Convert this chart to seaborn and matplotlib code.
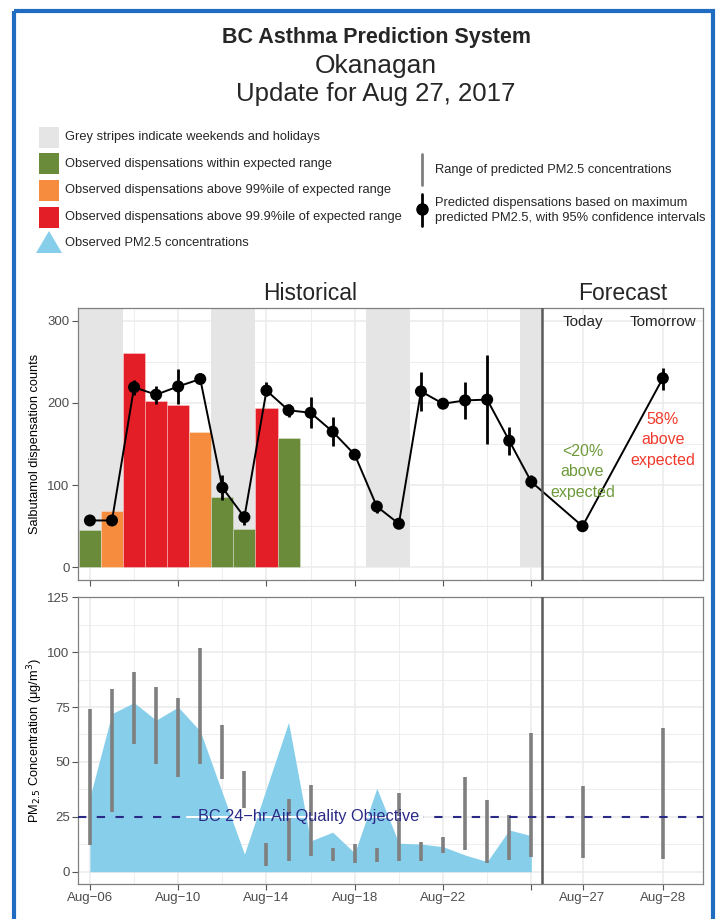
import numpy as np
import pandas as pd
import seaborn as sns
import matplotlib.pyplot as plt
from matplotlib.patches import Rectangle, Polygon

# ---- data ----
dates = pd.date_range("2017-08-06", "2017-08-28")
holidays = ["2017-08-06", "2017-08-07", "2017-08-12", "2017-08-13",
            "2017-08-19", "2017-08-20", "2017-08-26"]

observed_counts = [45, 69, 261, 202, 197, 165, 86, 47, 194, 157]
observed_status = ["within", "above99", "above999", "above999", "above999",
                   "above99", "within", "within", "above999", "within"]

predicted = [57, 57, 219, 210, 220, 229, 97, 61, 215, 191, 188, 165, 137, 74,
             53, 214, 199, 203, 204, 154, 104, 50, 230]
pred_lo = [55, 55, 210, 199, 199, 226, 82, 51, 208, 183, 170, 148, 134, 66,
           51, 190, 197, 181, 150, 137, 96, 48, 216]
pred_hi = [59, 59, 228, 220, 241, 233, 112, 68, 225, 199, 207, 183, 141, 79,
           55, 237, 202, 225, 258, 171, 112, 52, 242]

pm_observed = [34, 72, 77, 69, 75, 64, 36, 8, 38, 68, 14, 18, 8.5, 38,
               13, 12.6, 11.4, 7.6, 4.6, 19, 16.4]
pm_lo = [12, 27, 58, 49, 43, 49, 42, 29, 2.5, 5, 7, 5, 4, 4.5,
         5, 5, 8.3, 10, 4, 5.3, 6.5, 6.4, 5.6]
pm_hi = [74, 83, 91, 84, 79, 102, 67, 46, 13, 33, 39.5, 11, 12.6, 10.6,
         36, 13.3, 15.6, 43, 32.6, 26, 63, 39, 65.5]

status_colors = {"within": "#6A8B3A", "above99": "#F68D3E", "above999": "#E31E26"}

# x positions: historical days one unit apart, forecast days wider
W = 3.64
n_hist = 21
x_hist = np.arange(n_hist)
x_fc = n_hist - 0.5 + (np.arange(len(dates) - n_hist) + 0.5) * W
x_all = np.concatenate([x_hist, x_fc])
split = n_hist - 0.5
xlim = (-0.54, split + 2 * W)

labels = [d.strftime("%b-%d").replace("-", "\u2212") for d in dates]

sns.set_theme(style="white")
plt.rcParams['font.family'] = ['Liberation Sans', 'DejaVu Sans']

fig = plt.figure(figsize=(7.18, 9.19), dpi=100)
ax1 = fig.add_axes([78 / 718, 1 - 580 / 919, 625 / 718, 272 / 919])
ax2 = fig.add_axes([78 / 718, 1 - 884 / 919, 625 / 718, 287 / 919])

grid_c = "#EBEBEB"
major_x = list(x_hist[::4]) + list(x_fc)
minor_x = list(x_hist[2::4])


def style(ax, ymaj, ymin):
    for y in ymaj:
        ax.axhline(y, color=grid_c, lw=1.1, zorder=0)
    for y in ymin:
        ax.axhline(y, color=grid_c, lw=0.6, zorder=0)
    for x in major_x:
        ax.axvline(x, color=grid_c, lw=1.1, zorder=0)
    for x in minor_x:
        ax.axvline(x, color=grid_c, lw=0.6, zorder=0)
    for s in ax.spines.values():
        s.set_color("#808080")
        s.set_linewidth(0.9)
    ax.axvline(split, color="#5A5A5A", lw=1.8, zorder=6)
    ax.set_xlim(*xlim)
    ax.tick_params(axis="both", direction="out", length=4, width=0.8,
                   color="#555555", labelsize=9.5, labelcolor="#4D4D4D", pad=2,
                   left=True, bottom=True)
    ax.set_yticks(ymaj)
    ax.set_xlabel("")


# ---- top panel: dispensations ----
style(ax1, [0, 100, 200, 300], [50, 150, 250])
hol_x = [x_hist[list(dates).index(pd.Timestamp(h))] for h in holidays]
ax1.bar(hol_x, 400, bottom=0, width=1.0, color="#E5E5E5", lw=0, zorder=0.5)
ax1.bar(x_hist[:len(observed_counts)], observed_counts, width=1.0,
        color=[status_colors[s] for s in observed_status],
        edgecolor=(1, 1, 1, 0.35), lw=0.6, zorder=2)

pred_df = pd.DataFrame({"x": x_all, "pred": predicted, "lo": pred_lo, "hi": pred_hi})
sns.lineplot(data=pred_df, x="x", y="pred", color="black", lw=1.4, ax=ax1, zorder=3)
ax1.vlines(pred_df["x"], pred_df["lo"], pred_df["hi"], color="black", lw=2, zorder=3)
sns.scatterplot(data=pred_df, x="x", y="pred", color="black", s=75,
                edgecolor="none", ax=ax1, zorder=4)
ax1.set_ylim(-15.4, 315.4)
ax1.set_xticks(x_hist[::4])
ax1.set_xticklabels([])
ax1.set_ylabel("Salbutamol dispensation counts", fontsize=9.2, color="black")
ax1.yaxis.set_label_coords(-0.068, 0.5)
ax1.yaxis.label.set_va("center")

ax1.text(x_fc[0], 298, "Today", ha="center", va="center", fontsize=11)
ax1.text(x_fc[1], 298, "Tomorrow", ha="center", va="center", fontsize=11)
ax1.text(x_fc[0], 116, "<20%\nabove\nexpected", ha="center", va="center",
         fontsize=11.5, color="#6E9A3C", linespacing=1.45, zorder=5)
ax1.text(x_fc[1], 155, "58%\nabove\nexpected", ha="center", va="center",
         fontsize=11.5, color="#F03A2E", linespacing=1.45, zorder=5)

# ---- bottom panel: PM2.5 ----
style(ax2, [0, 25, 50, 75, 100, 125], [12.5, 37.5, 62.5, 87.5, 112.5])
ax2.fill_between(x_hist, 0, pm_observed, color="#87CEEB", lw=0, zorder=1)
ax2.vlines(x_all, pm_lo, pm_hi, color="#7F7F7F", lw=2.6, zorder=2)
ax2.axhline(25, color="#2A2A86", lw=1.5, ls=(0, (4, 5)), zorder=3)
ax2.plot([4.4, 15.1], [25, 25], color="white", lw=1.5, zorder=3.5)
ax2.text(9.9, 25, "BC 24\u2212hr Air Quality Objective", ha="center", va="center",
         fontsize=11.7, color="#2A2A86", zorder=4)
ax2.set_ylim(-5.6, 125.1)
tick_x = list(x_hist[::4]) + list(x_fc)
tick_lab = [labels[i] for i in range(0, 17, 4)] + [""] + labels[n_hist:]
ax2.set_xticks(tick_x)
ax2.set_xticklabels(tick_lab)
ax2.set_ylabel("PM$_{2.5}$ Concentration (\u03bcg/m$^{3}$)", fontsize=9.2, color="black")
ax2.yaxis.set_label_coords(-0.068, 0.5)
ax2.yaxis.label.set_va("center")

# ---- header, legend, frame (pixel overlay) ----
ov = fig.add_axes([0, 0, 1, 1], zorder=-1)
ov.set_xlim(0, 718)
ov.set_ylim(919, 0)
ov.axis("off")
ov.add_patch(Rectangle((14, 11), 699, 930, fill=False, edgecolor="#1F6CC0", lw=3))

ov.text(376, 37, "BC Asthma Prediction System", ha="center", va="center",
        fontsize=15.5, fontweight="bold")
ov.text(376, 66, "Okanagan", ha="center", va="center", fontsize=19)
ov.text(376, 94, "Update for Aug 27, 2017", ha="center", va="center", fontsize=18.5)

legend_rows = [("#E5E5E5", "Grey stripes indicate weekends and holidays"),
               (status_colors["within"], "Observed dispensations within expected range"),
               (status_colors["above99"], "Observed dispensations above 99%ile of expected range"),
               (status_colors["above999"], "Observed dispensations above 99.9%ile of expected range")]
for i, (c, t) in enumerate(legend_rows):
    yc = 137 + i * 26.7
    ov.add_patch(Rectangle((39, yc - 10.5), 20, 21, color=c, lw=0))
    ov.text(65, yc, t, va="center", fontsize=9.3)
ov.add_patch(Polygon([(36, 253), (62, 253), (49, 231)], closed=True,
                     color="#87CEEB", lw=0))
ov.text(65, 243, "Observed PM2.5 concentrations", va="center", fontsize=9.3)

ov.plot([422, 422], [154, 185], color="#7F7F7F", lw=2)
ov.text(435, 170, "Range of predicted PM2.5 concentrations", va="center", fontsize=9.3)
ov.plot([422, 422], [194, 226], color="black", lw=2)
ov.plot([422], [209], "o", color="black", ms=8)
ov.text(435, 203, "Predicted dispensations based on maximum", va="center", fontsize=9.3)
ov.text(435, 217.5, "predicted PM2.5, with 95% confidence intervals", va="center", fontsize=9.3)

ov.text(310.5, 293, "Historical", ha="center", va="center", fontsize=16.5)
ov.text(623, 293, "Forecast", ha="center", va="center", fontsize=16.5)

fig.savefig("out.png", dpi=100)
